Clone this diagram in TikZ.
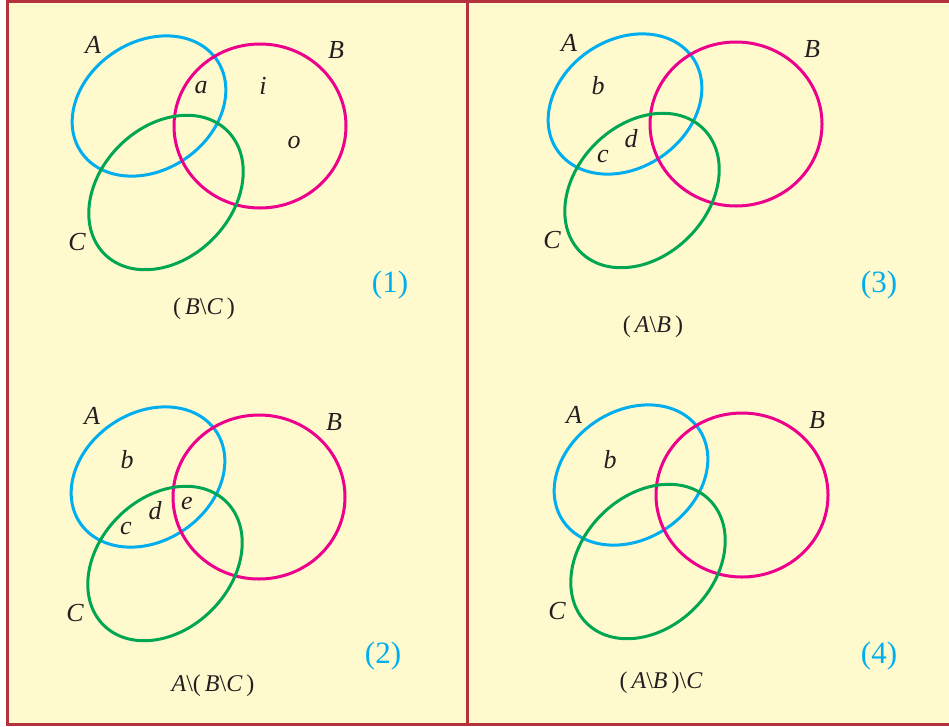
\documentclass[tikz,border=0pt]{standalone}
\usepackage{fontspec}
\setmainfont{Liberation Serif}
\definecolor{bg}{RGB}{255,250,205}
\definecolor{frame}{RGB}{180,50,60}
\definecolor{setA}{RGB}{0,174,239}
\definecolor{setB}{RGB}{236,0,140}
\definecolor{setC}{RGB}{0,166,81}
\definecolor{ink}{RGB}{35,31,32}
\newcommand{\sm}{\,\textbackslash\,}
\newcommand{\smx}{\textbackslash}
\tikzset{
  lbl/.style={inner sep=0pt, text=ink, font=\fontsize{26}{30}\selectfont\itshape},
  captext/.style={inner sep=0pt, text=ink, font=\fontsize{24}{28}\selectfont},
  numtext/.style={inner sep=0pt, text=setA, font=\fontsize{31}{35}\selectfont},
  ring/.style={line width=3pt},
  border/.style={draw=frame, line width=3pt}
}
\newcommand{\venn}[2]{%
  \draw[ring, setA] ({149+#1},{106+#2}) ellipse [x radius=82pt, y radius=64pt, rotate=34];
  \draw[ring, setB] ({260+#1},{126+#2}) ellipse [x radius=86pt, y radius=82pt];
  \draw[ring, setC] ({166+#1},{192.5+#2}) ellipse [x radius=87pt, y radius=66pt, rotate=45];
}
\begin{document}
\begin{tikzpicture}[x=1pt,y=-1pt]
\useasboundingbox (0,0) rectangle (949,726);
\fill[white] (0,0) rectangle (949,726);
\fill[bg] (7.5,1.5) rectangle (949,724.5);
\draw[border] (7.5,726) -- (7.5,1.5) -- (949,1.5);
\draw[border] (6,724.5) -- (949,724.5);
\draw[border] (467.5,0) -- (467.5,726);

% panel 1
\venn{0}{0}
\node[lbl] (p1A) at (93,45) {A};
\node[lbl] (p1B) at (336,50) {B};
\node[lbl] (p1C) at (77,242) {C};
\node[lbl] (p1a) at (201,88) {a};
\node[lbl] (p1i) at (263,86) {i};
\node[lbl] (p1o) at (294,142) {o};
\node[numtext] (p1n) at (390,285) {(1)};
\node[captext] (p1t) at (204,309) {(\,\textit{B}\smx\textit{C}\,)};

% panel 2
\venn{-1}{371}
\node[lbl] (p2A) at (92,416) {A};
\node[lbl] (p2B) at (334,422) {B};
\node[lbl] (p2C) at (75,613) {C};
\node[lbl] (p2b) at (127,460) {b};
\node[lbl] (p2c) at (126,528) {c};
\node[lbl] (p2d) at (155,511) {d};
\node[lbl] (p2e) at (187,503) {e};
\node[numtext] (p2n) at (383,656) {(2)};
\node[captext] (p2t) at (213,686) {\textit{A}\smx(\,\textit{B}\smx\textit{C}\,)};

% panel 3
\venn{476}{-2}
\node[lbl] (p3A) at (569,43) {A};
\node[lbl] (p3B) at (812,49) {B};
\node[lbl] (p3C) at (552,240) {C};
\node[lbl] (p3b) at (598,86) {b};
\node[lbl] (p3c) at (603,156) {c};
\node[lbl] (p3d) at (631,139) {d};
\node[numtext] (p3n) at (879,285) {(3)};
\node[captext] (p3t) at (653,327) {(\,\textit{A}\smx\textit{B}\,)};

% panel 4
\venn{482}{369}
\node[lbl] (p4A) at (574,415) {A};
\node[lbl] (p4B) at (817,420) {B};
\node[lbl] (p4C) at (557,611) {C};
\node[lbl] (p4b) at (610,460) {b};
\node[numtext] (p4n) at (879,656) {(4)};
\node[captext] (p4t) at (661,683) {(\,\textit{A}\smx\textit{B}\,)\smx\textit{C}};
\end{tikzpicture}
\end{document}
